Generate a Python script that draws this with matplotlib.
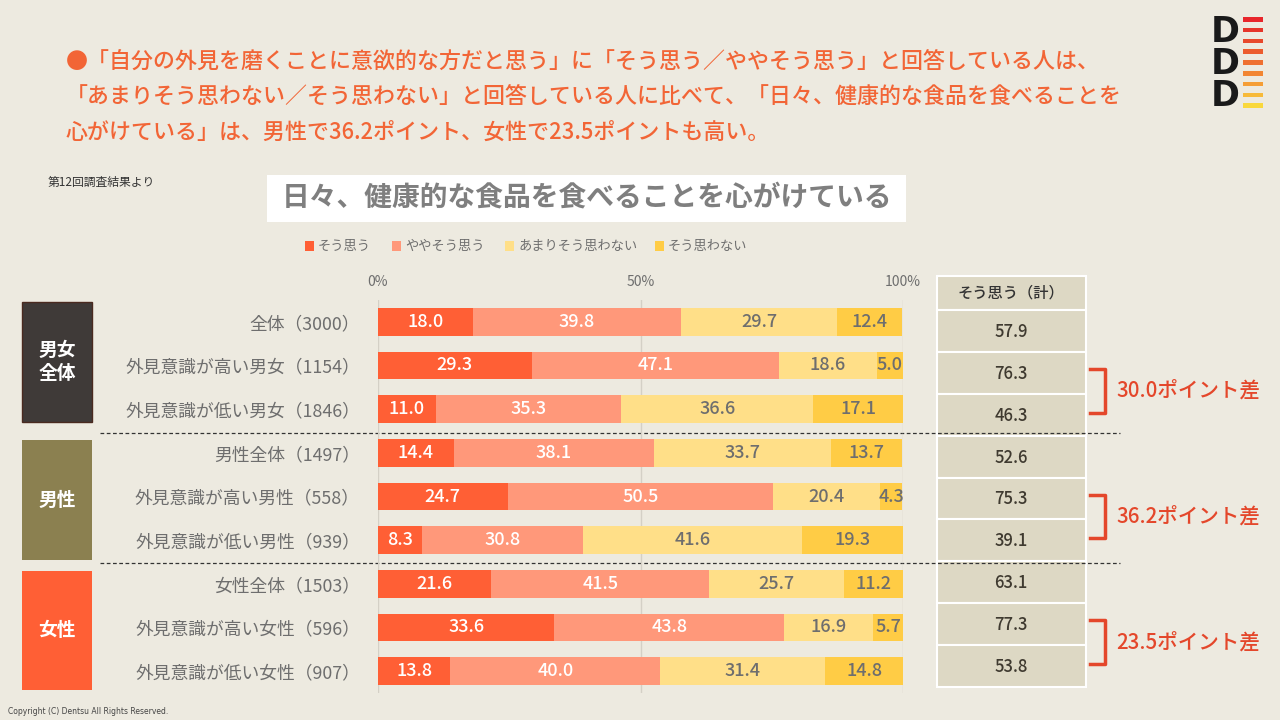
import matplotlib
matplotlib.use("Agg")
import matplotlib.pyplot as plt
from matplotlib.patches import Rectangle

plt.rcParams["font.family"] = ["Noto Sans CJK JP", "DejaVu Sans"]

# ---- data ----
row_labels = [
    "全体（3000）", "外見意識が高い男女（1154）", "外見意識が低い男女（1846）",
    "男性全体（1497）", "外見意識が高い男性（558）", "外見意識が低い男性（939）",
    "女性全体（1503）", "外見意識が高い女性（596）", "外見意識が低い女性（907）",
]
series_names = ["そう思う", "ややそう思う", "あまりそう思わない", "そう思わない"]
soo = [18.0, 29.3, 11.0, 14.4, 24.7, 8.3, 21.6, 33.6, 13.8]
yaya = [39.8, 47.1, 35.3, 38.1, 50.5, 30.8, 41.5, 43.8, 40.0]
amari = [29.7, 18.6, 36.6, 33.7, 20.4, 41.6, 25.7, 16.9, 31.4]
nai = [12.4, 5.0, 17.1, 13.7, 4.3, 19.3, 11.2, 5.7, 14.8]
total = [57.9, 76.3, 46.3, 52.6, 75.3, 39.1, 63.1, 77.3, 53.8]
groups = ["男女\n全体", "男性", "女性"]
diffs = ["30.0ポイント差", "36.2ポイント差", "23.5ポイント差"]

BG = "#EDEAE0"
colors = ["#FF5F35", "#FF987A", "#FFDF88", "#FFCC45"]
label_colors = ["white", "white", "#6E6E6E", "#6E6E6E"]
group_colors = ["#3F3A38", "#8B8050", "#FF5F35"]
ORANGE = "#F26536"
RED = "#E4472B"

fig = plt.figure(figsize=(12.8, 7.2), dpi=100, facecolor=BG)

# overlay in pixel coordinates
ov = fig.add_axes([0, 0, 1, 1])
ov.set_xlim(0, 1280)
ov.set_ylim(720, 0)
ov.axis("off")

# headline
head = [
    "●「自分の外見を磨くことに意欲的な方だと思う」に「そう思う／ややそう思う」と回答している人は、",
    "「あまりそう思わない／そう思わない」と回答している人に比べて、「日々、健康的な食品を食べることを",
    "心がけている」は、男性で36.2ポイント、女性で23.5ポイントも高い。",
]
for i, line in enumerate(head):
    ov.text(66, 62 + i * 35, line, fontsize=15.8, color=ORANGE, va="center",
            ha="left", fontweight="medium")

ov.text(48, 182, "第12回調査結果より", fontsize=8.5, color="#333333", va="center")
ov.text(8, 712, "Copyright (C) Dentsu All Rights Reserved.", fontsize=5.5,
        color="#444444", va="center", family=["DejaVu Sans"])

# chart title box
ov.add_patch(Rectangle((267, 175), 639, 47, facecolor="white", edgecolor="none"))
ov.text(587, 198, "日々、健康的な食品を食べることを心がけている", fontsize=20,
        fontweight="bold", color="#7F7F7F", ha="center", va="center")

# legend
leg_x = [305, 392, 505, 655]
for x, name, c in zip(leg_x, series_names, colors):
    ov.add_patch(Rectangle((x, 241), 9, 10, facecolor=c, edgecolor="none"))
    ov.text(x + 13, 246, name, fontsize=9.5, color="#6E6E6E", va="center")

# logo
for i in range(3):
    ov.text(1225, 32 + i * 32, "D", fontsize=25, fontweight="bold",
            color="#1A1A1A", ha="center", va="center", family=["DejaVu Sans"])
stripe_colors = ["#E8262B", "#E6352A", "#E8492C", "#EC5C2E", "#EF7030",
                 "#F28633", "#F59E36", "#F7BA39", "#F9D83C"]
for i, c in enumerate(stripe_colors):
    ov.add_patch(Rectangle((1243, 17 + i * 10.8), 20, 4.5, facecolor=c,
                           edgecolor="none"))

# group boxes
group_spans = [(302, 422), (440, 560), (571, 690)]
for (y0, y1), g, c in zip(group_spans, groups, group_colors):
    ov.add_patch(Rectangle((22, y0), 70, y1 - y0, facecolor=c, edgecolor="#4A2A20"
                           if c == "#3F3A38" else "none", lw=1))
    ov.text(57, (y0 + y1) / 2, g, fontsize=13.5, fontweight="bold", color="white",
            ha="center", va="center", linespacing=1.3)

# dashed separators
for y in [433, 563]:
    ov.plot([100, 1120], [y, y], ls=(0, (3, 2)), color="#333333", lw=0.9)

# table on the right
ov.add_patch(Rectangle((937, 276), 149, 34, facecolor="#DDD8C4",
                       edgecolor="white", lw=1.5))
ov.text(1011, 293, "そう思う（計）", fontsize=11, color="#333333",
        fontweight="medium", ha="center", va="center")
cell_h = (687 - 310) / len(total)
for i, v in enumerate(total):
    y0 = 310 + i * cell_h
    ov.add_patch(Rectangle((937, y0), 149, cell_h, facecolor="#DDD8C4",
                           edgecolor="white", lw=1.5))
    ov.text(1011, y0 + cell_h / 2 + 1, f"{v:.1f}", fontsize=12,
            fontweight="medium", color="#3F3A30", ha="center", va="center")

# brackets
for k, txt in enumerate(diffs):
    r0 = 1 + 3 * k
    ya = 310 + r0 * cell_h + cell_h / 2 - 4
    yb = 310 + (r0 + 1) * cell_h + cell_h / 2 - 2
    ov.plot([1090, 1105, 1105, 1090], [ya, ya, yb, yb], color=RED, lw=2.5,
            solid_joinstyle="round")
    ov.text(1116, (ya + yb) / 2, txt, fontsize=14.8, color=RED, va="center",
            ha="left", fontweight="medium")

# ---- bar chart ----
ax = fig.add_axes([378 / 1280, 1 - 693 / 720, (903 - 378) / 1280, 393 / 720])
ax.patch.set_alpha(0)
n = len(row_labels)
ypos = list(range(n))
left = [0.0] * n
for vals, c, tc in zip([soo, yaya, amari, nai], colors, label_colors):
    ax.barh(ypos, vals, left=left, height=0.64, color=c, edgecolor="none", zorder=3)
    for i, v in enumerate(vals):
        ax.text(left[i] + v / 2, i, f"{v:.1f}", ha="center", va="center",
                fontsize=13, color=tc, fontweight="medium", zorder=4)
    left = [a + b for a, b in zip(left, vals)]

ax.set_xlim(0, 100)
ax.set_ylim(n - 0.5, -0.5)
ax.set_xticks([0, 50, 100])
ax.set_xticklabels(["0%", "50%", "100%"])
ax.xaxis.tick_top()
ax.tick_params(axis="x", length=0, pad=8, labelsize=10, labelcolor="#6E6E6E")
ax.set_yticks(ypos)
ax.set_yticklabels(row_labels)
ax.tick_params(axis="y", length=0, pad=13, labelsize=12.8, labelcolor="#6E6E6E")
ax.grid(axis="x", color="#D4D0C6", lw=1, zorder=0)
for s in ax.spines.values():
    s.set_visible(False)

fig.savefig("out.png", dpi=100, facecolor=BG)
